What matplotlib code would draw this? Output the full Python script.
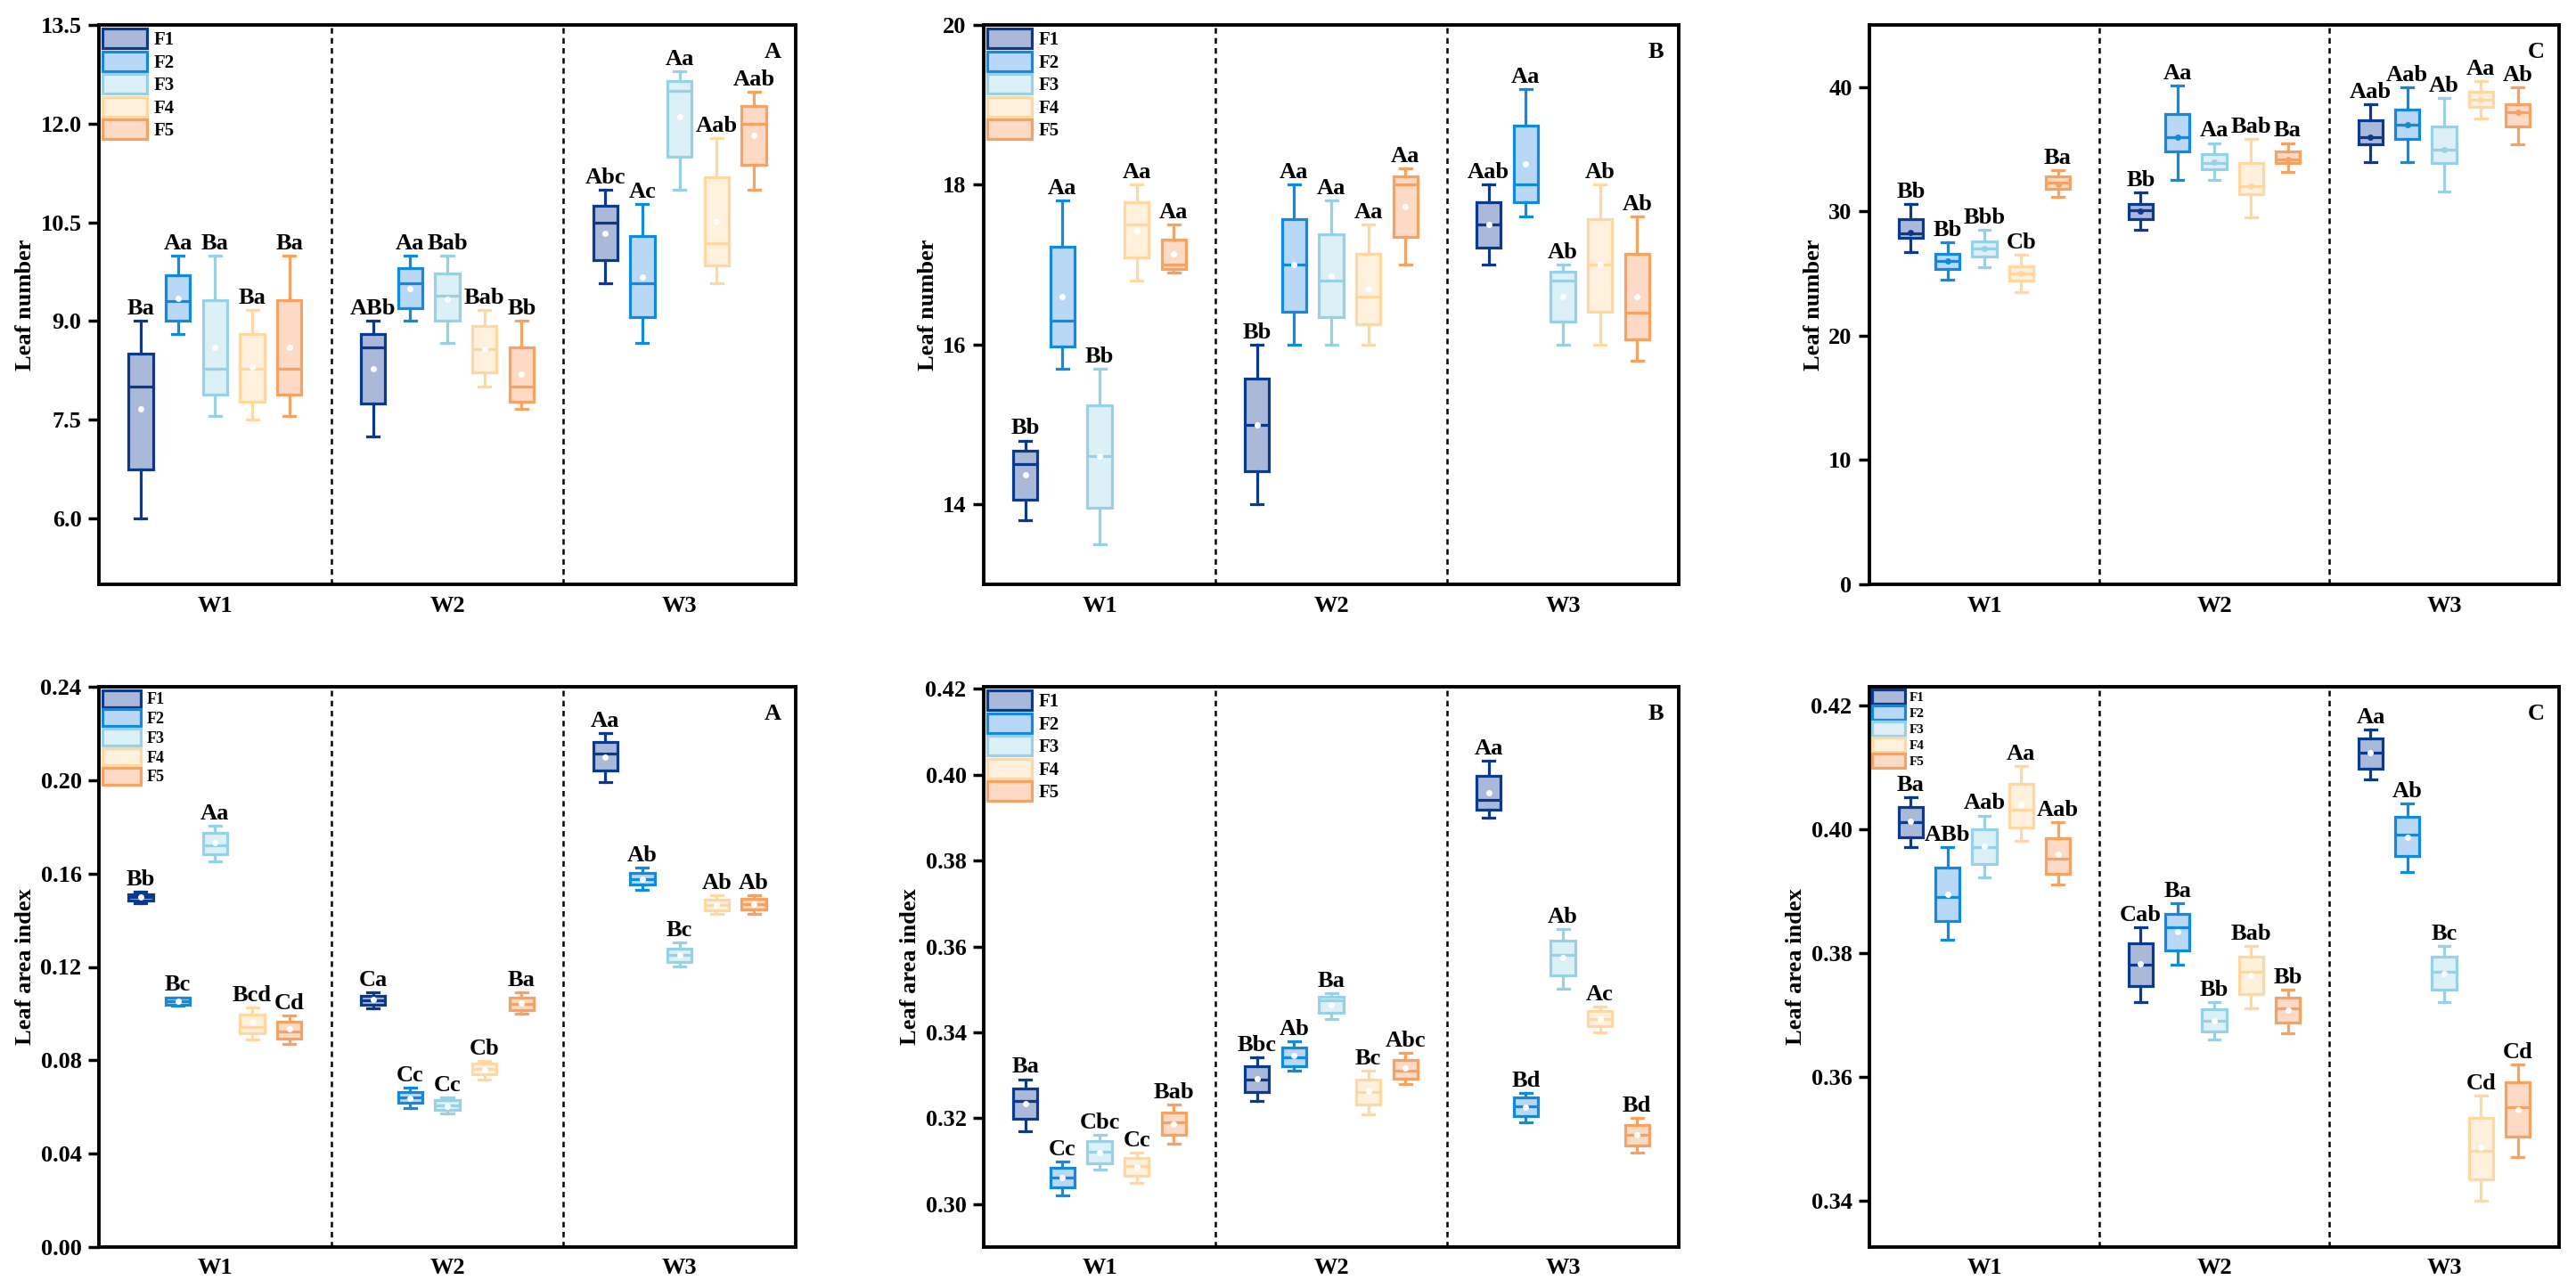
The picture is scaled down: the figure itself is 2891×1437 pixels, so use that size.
import numpy as np
import matplotlib.pyplot as plt
from matplotlib.patches import Patch

plt.rcParams['font.family'] = ['Liberation Serif', 'DejaVu Serif']
plt.rcParams['font.weight'] = 'bold'
plt.rcParams['axes.labelweight'] = 'bold'

groups = ['W1', 'W2', 'W3']
treatments = ['F1', 'F2', 'F3', 'F4', 'F5']
edge_colors = ['#0b3a8c', '#1089de', '#98d1e6', '#fed8a0', '#f5a263']
face_colors = ['#aab8da', '#b8d8f5', '#dbf0f7', '#fff1de', '#fcdac6']

# rows: whisker low, Q1, median, Q3, whisker high, mean  (W1 F1..F5, W2 F1..F5, W3 F1..F5)
leaf_a = [
    [6.0, 6.75, 8.0, 8.5, 9.0, 7.67], [8.8, 9.0, 9.3, 9.7, 10.0, 9.35],
    [7.56, 7.88, 8.27, 9.32, 10.0, 8.6], [7.5, 7.78, 8.27, 8.8, 9.17, 8.3],
    [7.56, 7.88, 8.27, 9.32, 10.0, 8.6],
    [7.25, 7.75, 8.6, 8.8, 9.0, 8.27], [9.0, 9.2, 9.57, 9.8, 10.0, 9.5],
    [8.67, 9.0, 9.38, 9.73, 10.0, 9.33], [8.0, 8.22, 8.58, 8.93, 9.17, 8.57],
    [7.67, 7.78, 8.0, 8.6, 9.0, 8.2],
    [9.57, 9.92, 10.5, 10.75, 11.0, 10.33], [8.67, 9.06, 9.57, 10.29, 10.78, 9.67],
    [11.0, 11.5, 12.5, 12.65, 12.8, 12.1], [9.57, 9.85, 10.18, 11.18, 11.78, 10.51],
    [11.0, 11.37, 12.0, 12.27, 12.49, 11.82],
]
leaf_a_sig = ['Ba', 'Aa', 'Ba', 'Ba', 'Ba', 'ABb', 'Aa', 'Bab', 'Bab', 'Bb',
              'Abc', 'Ac', 'Aa', 'Aab', 'Aab']

leaf_b = [
    [13.8, 14.06, 14.5, 14.67, 14.8, 14.37], [15.7, 15.98, 16.3, 17.22, 17.8, 16.6],
    [13.5, 13.96, 14.6, 15.24, 15.7, 14.6], [16.8, 17.09, 17.5, 17.78, 18.0, 17.43],
    [16.9, 16.95, 17.0, 17.31, 17.5, 17.13],
    [14.0, 14.42, 15.0, 15.57, 16.0, 15.0], [16.0, 16.41, 17.0, 17.57, 18.0, 17.0],
    [16.0, 16.34, 16.8, 17.38, 17.8, 16.86], [16.0, 16.26, 16.6, 17.13, 17.5, 16.7],
    [17.0, 17.35, 18.0, 18.1, 18.2, 17.73],
    [17.0, 17.21, 17.5, 17.78, 18.0, 17.5], [17.6, 17.78, 18.0, 18.74, 19.2, 18.26],
    [16.0, 16.29, 16.8, 16.91, 17.0, 16.6], [16.0, 16.41, 17.0, 17.57, 18.0, 17.0],
    [15.8, 16.06, 16.4, 17.13, 17.6, 16.6],
]
leaf_b_sig = ['Bb', 'Aa', 'Bb', 'Aa', 'Aa', 'Bb', 'Aa', 'Aa', 'Aa', 'Aa',
              'Aab', 'Aa', 'Ab', 'Ab', 'Ab']

leaf_c = [
    [26.7, 27.9, 28.2, 29.4, 30.6, 28.3], [24.5, 25.4, 26.0, 26.6, 27.5, 26.0],
    [25.5, 26.4, 27.0, 27.6, 28.5, 27.0], [23.5, 24.4, 25.0, 25.6, 26.5, 25.0],
    [31.2, 31.8, 32.3, 32.8, 33.3, 32.2],
    [28.5, 29.4, 30.1, 30.6, 31.5, 30.0], [32.5, 34.8, 36.0, 37.8, 40.1, 36.0],
    [32.5, 33.4, 33.9, 34.6, 35.5, 34.0], [29.5, 31.4, 32.0, 33.9, 35.8, 32.0],
    [33.2, 33.9, 34.2, 34.8, 35.5, 34.2],
    [34.0, 35.4, 36.0, 37.3, 38.6, 36.0], [34.0, 35.8, 37.0, 38.2, 40.0, 37.0],
    [31.6, 33.9, 35.0, 36.8, 39.1, 35.0], [37.5, 38.4, 39.0, 39.6, 40.5, 39.0],
    [35.4, 36.8, 38.0, 38.6, 40.0, 38.0],
]
leaf_c_sig = ['Bb', 'Bb', 'Bbb', 'Cb', 'Ba', 'Bb', 'Aa', 'Aa', 'Bab', 'Ba',
              'Aab', 'Aab', 'Ab', 'Aa', 'Ab']

lai_a = [
    [0.1471, 0.1485, 0.1501, 0.1512, 0.1522, 0.150], [0.1033, 0.1039, 0.1053, 0.1067, 0.1070, 0.1053],
    [0.1651, 0.1681, 0.1721, 0.1773, 0.1805, 0.1733], [0.0890, 0.0916, 0.0944, 0.0995, 0.1025, 0.0962],
    [0.0869, 0.0892, 0.0923, 0.0964, 0.0993, 0.0934],
    [0.1023, 0.1037, 0.1058, 0.1075, 0.1091, 0.1061], [0.0597, 0.0618, 0.0641, 0.0665, 0.0684, 0.0637],
    [0.0571, 0.0587, 0.0607, 0.0630, 0.0641, 0.0604], [0.0719, 0.0740, 0.0765, 0.0787, 0.0799, 0.0761],
    [0.1000, 0.1016, 0.1040, 0.1068, 0.1091, 0.1047],
    [0.1992, 0.2042, 0.2112, 0.2164, 0.2201, 0.2100], [0.1531, 0.1553, 0.1576, 0.1604, 0.1625, 0.1576],
    [0.1201, 0.1222, 0.1253, 0.1279, 0.1304, 0.1250], [0.1428, 0.1443, 0.1466, 0.1489, 0.1506, 0.1466],
    [0.1428, 0.1445, 0.1468, 0.1491, 0.1506, 0.1468],
]
lai_a_sig = ['Bb', 'Bc', 'Aa', 'Bcd', 'Cd', 'Ca', 'Cc', 'Cc', 'Cb', 'Ba',
             'Aa', 'Ab', 'Bc', 'Ab', 'Ab']

lai_b = [
    [0.3169, 0.3199, 0.3241, 0.3269, 0.3291, 0.3234], [0.3020, 0.3038, 0.3061, 0.3084, 0.3100, 0.3061],
    [0.3080, 0.3096, 0.3121, 0.3146, 0.3161, 0.3119], [0.3050, 0.3066, 0.3089, 0.3107, 0.3120, 0.3087],
    [0.3140, 0.3161, 0.3191, 0.3214, 0.3231, 0.3186],
    [0.3240, 0.3261, 0.3291, 0.3322, 0.3341, 0.3293], [0.3310, 0.3322, 0.3342, 0.3365, 0.3380, 0.3346],
    [0.3431, 0.3446, 0.3475, 0.3482, 0.3491, 0.3464], [0.3210, 0.3231, 0.3262, 0.3290, 0.3311, 0.3264],
    [0.3280, 0.3292, 0.3311, 0.3336, 0.3352, 0.3317],
    [0.3900, 0.3919, 0.3941, 0.3997, 0.4032, 0.3959], [0.3191, 0.3205, 0.3228, 0.3248, 0.3259, 0.3226],
    [0.3501, 0.3533, 0.3581, 0.3614, 0.3641, 0.3574], [0.3400, 0.3414, 0.3431, 0.3449, 0.3461, 0.3431],
    [0.3119, 0.3137, 0.3161, 0.3184, 0.3200, 0.3161],
]
lai_b_sig = ['Ba', 'Cc', 'Cbc', 'Cc', 'Bab', 'Bbc', 'Ab', 'Ba', 'Bc', 'Abc',
             'Aa', 'Bd', 'Ab', 'Ac', 'Bd']

lai_c = [
    [0.3971, 0.3987, 0.4011, 0.4036, 0.4052, 0.4013], [0.3821, 0.3851, 0.3891, 0.3938, 0.3971, 0.3895],
    [0.3922, 0.3943, 0.3971, 0.4000, 0.4022, 0.3973], [0.3981, 0.4002, 0.4032, 0.4073, 0.4102, 0.4039],
    [0.3911, 0.3928, 0.3952, 0.3986, 0.4011, 0.3959],
    [0.3721, 0.3746, 0.3781, 0.3816, 0.3841, 0.3782], [0.3781, 0.3804, 0.3842, 0.3863, 0.3880, 0.3834],
    [0.3660, 0.3673, 0.3691, 0.3709, 0.3721, 0.3691], [0.3710, 0.3734, 0.3769, 0.3794, 0.3811, 0.3764],
    [0.3671, 0.3687, 0.3711, 0.3728, 0.3741, 0.3707],
    [0.4081, 0.4098, 0.4123, 0.4146, 0.4161, 0.4123], [0.3931, 0.3956, 0.3991, 0.4020, 0.4041, 0.3987],
    [0.3721, 0.3741, 0.3770, 0.3794, 0.3811, 0.3766], [0.3400, 0.3435, 0.3481, 0.3533, 0.3570, 0.3486],
    [0.3471, 0.3503, 0.3551, 0.3591, 0.3620, 0.3546],
]
lai_c_sig = ['Ba', 'ABb', 'Aab', 'Aa', 'Aab', 'Cab', 'Ba', 'Bb', 'Bab', 'Bb',
             'Aa', 'Ab', 'Bc', 'Cd', 'Cd']

offsets = [-0.32, -0.16, 0.0, 0.16, 0.32]


def draw_panel(ax, stats, sig, ylim, yticks, fmt, ylabel, letter, leg_fs=None, white_mean=True):
    for g in range(3):
        for t in range(5):
            lo, q1, med, q3, hi, mean = stats[g * 5 + t]
            st = dict(whislo=lo, q1=q1, med=med, q3=q3, whishi=hi, mean=mean, fliers=[])
            ec = edge_colors[t]
            pos = g + offsets[t]
            ax.bxp([st], positions=[pos], widths=0.105, capwidths=0.05,
                   patch_artist=True, showmeans=True, showfliers=False, manage_ticks=False,
                   boxprops=dict(facecolor=face_colors[t], edgecolor=ec, linewidth=2.3),
                   whiskerprops=dict(color=ec, linewidth=2.3),
                   capprops=dict(color=ec, linewidth=2.3),
                   medianprops=dict(color=ec, linewidth=2.3),
                   meanprops=dict(marker='o', markersize=5, markeredgecolor='none',
                                  markerfacecolor='white' if white_mean else ec))
            ax.annotate(sig[g * 5 + t], (pos, hi), xytext=(0, 1.5), textcoords='offset points',
                        ha='center', va='bottom', fontsize=19, fontweight='bold')
    for xv in [0.5, 1.5]:
        ax.axvline(xv, color='black', lw=1.8, ls=(0, (2.5, 2)))
    ax.set_xlim(-0.5, 2.5)
    ax.set_ylim(*ylim)
    ax.set_yticks(yticks)
    ax.set_yticklabels([fmt % v for v in yticks])
    ax.set_xticks([0, 1, 2])
    ax.set_xticklabels(groups)
    ax.tick_params(axis='y', direction='out', length=9, width=2.5, labelsize=19, pad=5)
    ax.tick_params(axis='x', length=0, labelsize=19, pad=9)
    for sp in ax.spines.values():
        sp.set_linewidth(2.8)
    ax.set_ylabel(ylabel, fontsize=19, fontweight='bold')
    ax.text(0.967, 0.952, letter, transform=ax.transAxes, ha='center', va='center',
            fontsize=19, fontweight='bold')
    if leg_fs is not None:
        handles = [Patch(facecolor=face_colors[t], edgecolor=edge_colors[t], linewidth=2.3)
                   for t in range(5)]
        ax.legend(handles, treatments, loc='upper left', frameon=False, fontsize=leg_fs,
                  handlelength=2.4, handleheight=1.25, labelspacing=0.12, handletextpad=0.35,
                  borderaxespad=0.15, borderpad=0.05)


fig = plt.figure(figsize=(28.91, 14.37), dpi=100)
lefts = [111 / 2891, 1104 / 2891, 2098 / 2891]
widths = [782 / 2891, 780 / 2891, 774 / 2891]
top_b, top_h = 1 - 656 / 1437, 628 / 1437
bot_b, bot_h = 1 - 1400 / 1437, 629 / 1437

ax1 = fig.add_axes([lefts[0], top_b, widths[0], top_h])
ax2 = fig.add_axes([lefts[1], top_b, widths[1], top_h])
ax3 = fig.add_axes([lefts[2], top_b, widths[2], top_h])
ax4 = fig.add_axes([lefts[0], bot_b, widths[0], bot_h])
ax5 = fig.add_axes([lefts[1], bot_b, widths[1], bot_h])
ax6 = fig.add_axes([lefts[2], bot_b, widths[2], bot_h])

draw_panel(ax1, leaf_a, leaf_a_sig, (5.0, 13.5), [6.0, 7.5, 9.0, 10.5, 12.0, 13.5], '%.1f',
           'Leaf number', 'A', leg_fs=15)
draw_panel(ax2, leaf_b, leaf_b_sig, (13, 20), [14, 16, 18, 20], '%d',
           'Leaf number', 'B', leg_fs=15)
draw_panel(ax3, leaf_c, leaf_c_sig, (0, 45), [0, 10, 20, 30, 40], '%d',
           'Leaf number', 'C', white_mean=False)
draw_panel(ax4, lai_a, lai_a_sig, (0, 0.24), [0.0, 0.04, 0.08, 0.12, 0.16, 0.20, 0.24], '%.2f',
           'Leaf area index', 'A', leg_fs=13)
draw_panel(ax5, lai_b, lai_b_sig, (0.29, 0.4205), [0.30, 0.32, 0.34, 0.36, 0.38, 0.40, 0.42], '%.2f',
           'Leaf area index', 'B', leg_fs=15)
draw_panel(ax6, lai_c, lai_c_sig, (0.3325, 0.423), [0.34, 0.36, 0.38, 0.40, 0.42], '%.2f',
           'Leaf area index', 'C', leg_fs=11)

fig.savefig('out.png', dpi=100)
